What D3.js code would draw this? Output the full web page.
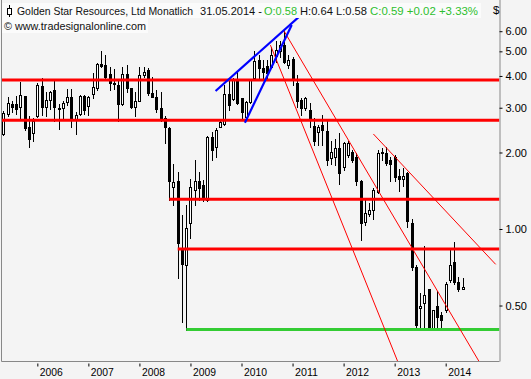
<!DOCTYPE html>
<html><head><meta charset="utf-8">
<script src="https://cdn.jsdelivr.net/npm/d3@7"></script>
<style>
body{margin:0;background:#f4f4f4;}
svg{display:block;font-family:"Liberation Sans",Arial,sans-serif;}
</style></head><body>
<svg id="c" width="531" height="379"></svg>
<script>
// Monthly candles, May 2005 .. May 2014
const months = d3.timeMonth.range(new Date(2005,4,1), new Date(2014,5,1));
const open  = [2.37,2.83,3.10,3.10,3.01,3.33,2.51,2.38,2.78,3.65,3.03,3.22,3.52,2.98,2.98,3.16,3.30,2.68,2.83,3.33,3.05,3.39,3.60,4.46,4.42,4.07,3.77,3.69,3.09,4.06,3.58,3.01,3.20,4.05,4.22,3.44,3.31,2.98,2.73,2.49,1.46,1.54,0.83,0.72,1.06,1.42,1.55,1.49,1.30,2.31,2.11,2.53,2.59,3.39,3.25,3.89,3.27,2.76,3.15,3.92,4.62,4.30,4.38,4.35,4.79,5.01,5.29,4.42,4.66,3.74,3.22,2.98,2.94,2.55,2.41,2.56,2.43,1.91,1.92,2.08,1.76,1.95,2.01,1.92,1.54,1.07,1.15,1.19,1.40,1.99,1.99,1.86,1.92,1.62,1.58,1.66,1.06,0.71,0.49,0.51,0.58,0.40,0.50,0.46,0.48,0.63,0.74,0.62,0.58];
const high  = [2.92,3.31,3.20,3.34,3.79,3.35,2.78,2.73,3.77,3.92,3.47,3.48,3.86,3.10,3.19,3.54,3.54,2.89,3.37,3.37,3.35,4.10,4.51,5.01,4.85,4.35,4.25,3.86,4.33,4.42,3.58,3.47,4.35,4.33,4.31,3.96,3.52,3.47,2.78,2.51,1.81,1.67,1.14,1.24,1.57,1.86,1.68,1.56,2.32,2.41,2.49,2.68,3.69,3.93,3.93,4.15,3.28,3.18,3.88,5.01,4.83,4.62,4.62,5.21,5.51,5.51,6.12,4.83,4.75,4.04,3.27,3.31,3.14,2.73,2.56,2.81,2.68,2.21,2.27,2.38,2.19,2.21,2.05,1.99,1.56,1.32,1.26,1.45,2.05,2.08,2.11,1.92,1.95,1.72,1.73,1.67,1.09,0.72,0.56,0.86,0.58,0.48,0.57,0.47,0.62,0.83,0.89,0.65,0.64];
const low   = [2.34,2.78,2.89,2.83,2.68,2.45,2.11,2.21,2.75,2.81,2.79,2.96,2.65,2.47,2.68,3.07,2.51,2.36,2.80,2.83,2.81,3.27,3.52,4.35,3.92,3.52,3.54,2.65,3.07,3.47,3.00,2.78,3.19,3.98,3.37,3.30,2.89,2.65,2.17,1.30,1.24,0.64,0.43,0.40,0.92,1.24,1.30,1.29,1.29,1.87,1.92,2.52,2.56,2.94,3.22,3.10,2.73,2.73,3.12,3.90,3.93,3.93,3.86,4.30,4.54,4.75,4.50,4.30,3.69,3.03,2.81,2.94,2.53,2.14,2.14,2.14,1.79,1.81,1.79,1.51,1.71,1.92,1.84,1.49,0.905,1.04,1.12,1.09,1.38,1.87,1.79,1.54,1.54,1.41,1.47,1.02,0.69,0.41,0.41,0.41,0.40,0.40,0.41,0.40,0.47,0.62,0.61,0.57,0.58];
const close = [2.87,3.14,3.03,2.97,3.37,2.50,2.27,2.66,3.69,3.03,3.22,3.45,3.03,2.96,3.12,3.30,2.74,2.82,3.33,2.94,3.31,3.63,4.46,4.39,3.96,3.74,3.73,3.09,4.06,3.60,3.03,3.19,4.04,4.15,3.44,3.31,2.97,2.71,2.53,1.54,1.53,0.88,0.73,1.01,1.46,1.55,1.45,1.34,2.31,2.05,2.45,2.63,3.39,3.07,3.86,3.12,2.88,3.15,3.86,4.58,4.30,4.13,4.11,4.83,5.06,5.29,4.54,4.62,3.86,3.20,2.98,3.27,2.68,2.21,2.53,2.45,1.87,2.01,2.08,1.66,2.17,2.17,1.87,1.54,1.06,1.16,1.19,1.42,1.99,2.01,1.82,1.81,1.60,1.58,1.62,1.08,0.71,0.42,0.50,0.55,0.40,0.48,0.45,0.44,0.61,0.72,0.62,0.58,0.59];

const priceTicks = [0.5,1,2,3,4,5,6];
// horizontal support/resistance levels and month index where each starts (-1 = left edge)
const levels      = [3.86, 2.68, 1.31, 0.834];
const levelStart  = [-1, -1, 39, 41];
const supportLevel = 0.402, supportStart = 43;
// trend lines: [startIndex, startPrice, endIndex, endPrice]
const blueTrends = [[49.9,3.49,73.0,7.7],[56.8,2.62,67.8,6.35]];
const redTrends  = [[62.8,5.29,100,0.15],[66.0,6.01,111.8,0.302],[87.0,2.365,115.75,0.726]];

const svg = d3.select("#c");
const L = 1.5, R = 499.5, B = 361.5;
const x = d3.scaleLinear().domain([0,108]).range([3.3,462.7]);
const y = d3.scaleLog().domain([0.3025,7.96]).range([361,0]);

svg.append("rect").attr("width",531).attr("height",379).attr("fill","#f4f4f4");
svg.append("defs").append("clipPath").attr("id","clip")
  .append("rect").attr("x",L).attr("y",0).attr("width",R-L).attr("height",B);

const plot = svg.append("g").attr("clip-path","url(#clip)");

// candles
const idx = d3.range(months.length);
const cg = plot.append("g");
idx.forEach(i=>{
  const cx = Math.round(x(i));
  cg.append("line").attr("x1",cx+0.5).attr("x2",cx+0.5)
    .attr("y1",Math.round(y(high[i]))).attr("y2",Math.round(y(low[i]))+1)
    .attr("stroke","#000").attr("stroke-width",1);
  const up = close[i] >= open[i];
  const t = Math.round(y(Math.max(open[i],close[i])));
  const b = Math.round(y(Math.min(open[i],close[i])));
  cg.append("rect").attr("x",cx-1+0.5).attr("y",t+0.5)
    .attr("width",2).attr("height",Math.max(1,b-t))
    .attr("fill", up ? "#fff" : "#000").attr("stroke","#000").attr("stroke-width",1);
});

// horizontal levels
levels.forEach((v,k)=>{
  const x0 = levelStart[k] < 0 ? L : x(levelStart[k]);
  plot.append("line").attr("x1",x0).attr("x2",R).attr("y1",y(v)).attr("y2",y(v))
    .attr("stroke","#ff0000").attr("stroke-width",3);
});
plot.append("line").attr("x1",x(supportStart)).attr("x2",R)
  .attr("y1",y(supportLevel)).attr("y2",y(supportLevel))
  .attr("stroke","#33cc33").attr("stroke-width",3);

// trend lines
redTrends.forEach(t=>{
  plot.append("line").attr("x1",x(t[0])).attr("y1",y(t[1])).attr("x2",x(t[2])).attr("y2",y(t[3]))
    .attr("stroke","#ff0000").attr("stroke-width",1);
});
blueTrends.forEach(t=>{
  plot.append("line").attr("x1",x(t[0])).attr("y1",y(t[1])).attr("x2",x(t[2])).attr("y2",y(t[3]))
    .attr("stroke","#0000ff").attr("stroke-width",2.2);
});

// borders
svg.append("line").attr("x1",L).attr("x2",L).attr("y1",0).attr("y2",B).attr("stroke","#888");
svg.append("line").attr("x1",L).attr("x2",R).attr("y1",B).attr("y2",B).attr("stroke","#888");

// right axis
const ya = svg.append("g").attr("transform",`translate(${R},0)`)
  .call(d3.axisRight(y).tickValues(priceTicks).tickFormat(d3.format(".2f")).tickSize(3).tickSizeOuter(0).tickPadding(3));
ya.select(".domain").attr("stroke","#888").attr("d",`M0.5,0V${B}`);
ya.selectAll("text").attr("font-size",11).attr("fill","#000").attr("font-family","Liberation Sans, Arial, sans-serif");
ya.selectAll(".tick line").attr("stroke","#000");

// bottom axis (years)
const janIdx = idx.filter(i=>months[i].getMonth()===0);
const xa = svg.append("g").attr("transform","translate(0,363.5)")
  .call(d3.axisBottom(x).tickValues(janIdx).tickFormat(i=>d3.timeFormat("%Y")(months[i])).tickSize(3).tickSizeOuter(0));
xa.select(".domain").remove();
xa.selectAll(".tick line").attr("stroke","#000");
xa.selectAll("text").attr("text-anchor","start").attr("x",2).attr("y",5)
  .attr("font-size",11).attr("fill","#000").attr("font-family","Liberation Sans, Arial, sans-serif")
  .attr("textLength",23).attr("lengthAdjust","spacingAndGlyphs");

// header (text boxes hide the lines behind them)
svg.append("rect").attr("x",2).attr("y",3).attr("width",479).attr("height",15).attr("fill","#fbfbfb");
svg.append("rect").attr("x",2).attr("y",18).attr("width",146).attr("height",15).attr("fill","#fbfbfb");
const hdr = svg.append("g").attr("font-size",11);
hdr.append("line").attr("x1",9.5).attr("x2",9.5).attr("y1",5).attr("y2",17).attr("stroke","#000");
hdr.append("rect").attr("x",7.5).attr("y",8.5).attr("width",4).attr("height",6).attr("fill","#fff").attr("stroke","#000");
function ht(xp, yp, w, col, s){
  hdr.append("text").attr("x",xp).attr("y",yp).attr("fill",col)
    .attr("textLength",w).attr("lengthAdjust","spacingAndGlyphs").text(s);
}
ht(17,15,176,"#111","Golden Star Resources, Ltd Monatlich");
ht(200,15,62,"#111","31.05.2014 -");
ht(264,15,33,"#2fbf2f","O:0.58");
ht(300,15,67,"#111","H:0.64 L:0.58");
ht(370,15,108,"#2fbf2f","C:0.59 +0.02 +3.33%");
ht(4,30,142,"#111","© www.tradesignalonline.com");
svg.append("text").attr("x",493).attr("y",14).attr("font-size",11.5).attr("fill","#000").text("$");
</script>
</body></html>
